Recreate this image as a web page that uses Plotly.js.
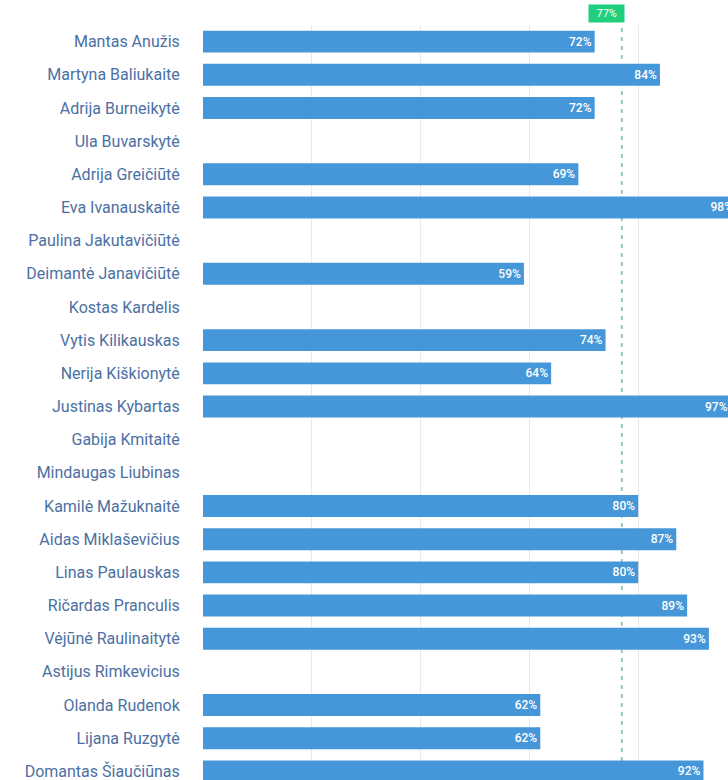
<!DOCTYPE html>
<html>
<head>
<meta charset="utf-8">
<script src="https://cdn.plot.ly/plotly-3.0.1.min.js"></script>
<style>
html, body { margin: 0; padding: 0; overflow: hidden; background: #ffffff; }
#chart { width: 760px; height: 800px; }
</style>
</head>
<body>
<div id="chart"></div>
<script>
const names = [
  "Mantas Anužis", "Martyna Baliukaite", "Adrija Burneikytė", "Ula Buvarskytė",
  "Adrija Greičiūtė", "Eva Ivanauskaitė", "Paulina Jakutavičiūtė", "Deimantė Janavičiūtė",
  "Kostas Kardelis", "Vytis Kilikauskas", "Nerija Kiškionytė", "Justinas Kybartas",
  "Gabija Kmitaitė", "Mindaugas Liubinas", "Kamilė Mažuknaitė", "Aidas Miklaševičius",
  "Linas Paulauskas", "Ričardas Pranculis", "Vėjūnė Raulinaitytė", "Astijus Rimkevicius",
  "Olanda Rudenok", "Lijana Ruzgytė", "Domantas Šiaučiūnas"
];
const scores = [
  72, 84, 72, null,
  69, 98, null, 59,
  null, 74, 64, 97,
  null, null, 80, 87,
  80, 89, 93, null,
  62, 62, 92
];
const average = 77;
const gridTicks = [0, 20, 40, 60, 80, 100];

const labels = scores.map(v => v === null ? "" : v + "%");

const trace = {
  type: "bar",
  orientation: "h",
  y: names,
  x: scores,
  text: labels,
  textposition: "inside",
  insidetextanchor: "end",
  textangle: 0,
  constraintext: "none",
  textfont: { family: "Roboto, sans-serif", size: 12, color: "#ffffff", weight: 500 },
  marker: { color: "#4697d9" },
  hoverinfo: "none"
};

const layout = {
  width: 760,
  height: 800,
  margin: { l: 203, r: 13, t: 25, b: 12 },
  paper_bgcolor: "#ffffff",
  plot_bgcolor: "#ffffff",
  bargap: 0.34,
  showlegend: false,
  xaxis: {
    range: [0, 100],
    tickvals: gridTicks,
    showticklabels: false,
    showgrid: true,
    gridcolor: "#e9e9e9",
    gridwidth: 1,
    zeroline: false,
    fixedrange: true
  },
  yaxis: {
    autorange: "reversed",
    showgrid: false,
    zeroline: false,
    ticks: "outside",
    ticklen: 19,
    tickcolor: "rgba(0,0,0,0)",
    tickfont: { family: "Roboto, sans-serif", size: 16, color: "#4c70a3" },
    fixedrange: true
  },
  shapes: [{
    type: "line",
    xref: "x", yref: "paper",
    x0: average, x1: average, y0: 0, y1: 1,
    line: { color: "#2ba384", width: 1, dash: "4px,5px" },
    layer: "below"
  }],
  annotations: [{
    xref: "x", yref: "paper",
    x: average, y: 1,
    xanchor: "right", yanchor: "bottom",
    xshift: 3, yshift: 2,
    text: "&nbsp;&nbsp;" + average + "%&nbsp;&nbsp;",
    showarrow: false,
    bgcolor: "#1fcf7b",
    borderpad: 2,
    font: { family: "Roboto, sans-serif", size: 11, color: "#ffffff" }
  }]
};

Plotly.newPlot("chart", [trace], layout, { displayModeBar: false, staticPlot: true });
</script>
</body>
</html>
